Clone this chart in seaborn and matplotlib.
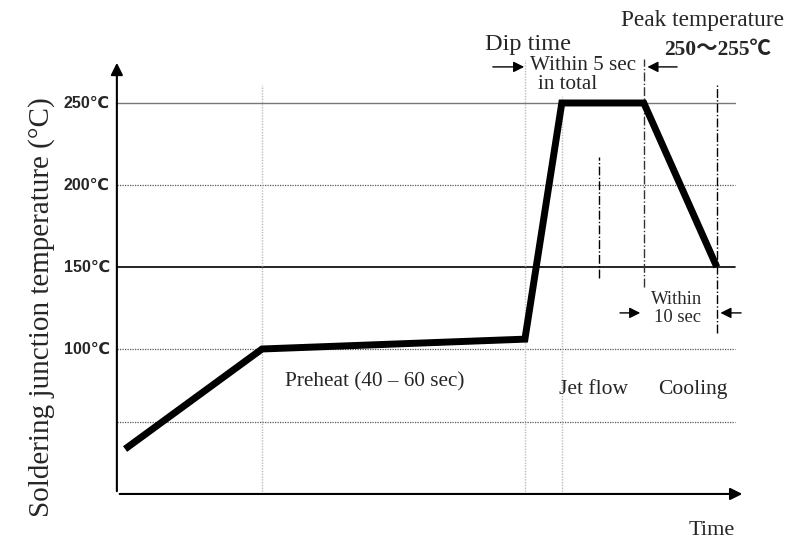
# Flow soldering temperature profile
import seaborn as sns
import matplotlib.pyplot as plt
import pandas as pd

# profile corner points (time in arbitrary units, temperature in °C)
time = [2, 35.4, 99.5, 108.5, 128.5, 146.3]
temp = [39, 100, 106, 250, 250, 150]

tick_temps = [250, 200, 150, 100]
tick_labels = ['250℃', '200℃', '150℃', '100℃']

profile = pd.DataFrame({'time': time, 'temp': temp})

sns.set_style('white')
serif = ['Liberation Serif', 'DejaVu Serif']
sans = ['Liberation Sans', 'DejaVu Sans']

fig = plt.figure(figsize=(7.89, 5.43), dpi=100)
ax = fig.add_axes([0, 0, 1, 1])

x_end = 150.7
y0 = 11.6

# horizontal reference lines
ax.plot([0, x_end], [250, 250], color='#777777', lw=1.0)
ax.plot([0, x_end], [200, 200], color='#555555', lw=0.9, ls=(0, (1, 1)))
ax.plot([0, x_end], [150, 150], color='black', lw=1.2)
ax.plot([0, x_end], [100, 100], color='#555555', lw=0.9, ls=(0, (1, 1)))
ax.plot([0, x_end], [55.5, 55.5], color='#555555', lw=0.9, ls=(0, (1, 1)))

# vertical phase lines
ax.plot([35.4, 35.4], [y0, 261], color='#bbbbbb', lw=1.0, ls=(0, (1, 1)))
ax.plot([99.5, 99.5], [y0, 276], color='#bbbbbb', lw=1.0, ls=(0, (1, 1)))
ax.plot([108.5, 108.5], [y0, 254], color='#bbbbbb', lw=1.0, ls=(0, (1, 1)))
ax.plot([117.6, 117.6], [143, 217], color='black', lw=1.0, ls='-.')
ax.plot([128.5, 128.5], [138, 277], color='#333333', lw=1.0, ls='-.')
ax.plot([146.3, 146.3], [110, 261], color='black', lw=1.0, ls='-.')

# axes with arrow heads
ax.annotate('', xy=(0, 276.2), xytext=(0, y0),
            arrowprops=dict(arrowstyle='-|>', color='black', lw=1.5, mutation_scale=18))
ax.annotate('', xy=(153.2, y0), xytext=(0, y0),
            arrowprops=dict(arrowstyle='-|>', color='black', lw=1.5, mutation_scale=18))

sns.lineplot(data=profile, x='time', y='temp', color='black', lw=5, ax=ax,
             solid_joinstyle='miter', solid_capstyle='butt')
ax.set_xlim(-28.5, 163.9)
ax.set_ylim(-18.3, 312.8)
ax.axis('off')

for t, lab in zip(tick_temps, tick_labels):
    ax.text(-1.7, t, lab, ha='right', va='center', fontsize=11.5,
            fontweight='bold', family=sans)

ax.text(-18.3, 125.6, 'Soldering junction temperature (°C)', rotation=90,
        ha='center', va='center', fontsize=21, family=serif)

ax.text(62.9, 79.9, 'Preheat (40 – 60 sec)', ha='center', va='center',
        fontsize=15.3, family=serif)
ax.text(116.3, 75, 'Jet flow', ha='center', va='center', fontsize=15.5, family=serif)
ax.text(140.5, 75, 'Cooling', ha='center', va='center', fontsize=15.5, family=serif)

ax.text(89.8, 285.4, 'Dip time', ha='left', va='center', fontsize=17.5, family=serif)
ax.text(113.7, 272.6, 'Within 5 sec', ha='center', va='center', fontsize=15.2, family=serif)
ax.text(110, 261, 'in total', ha='center', va='center', fontsize=15.2, family=serif)
ax.text(142.9, 300.6, 'Peak temperature', ha='center', va='center', fontsize=16.8, family=serif)
ax.text(146.6, 282.3, '250～255℃', ha='center', va='center', fontsize=15.5,
        fontweight='bold', family=['Liberation Serif', 'Noto Sans CJK JP', 'DejaVu Sans'])
ax.text(136.6, 129.9, 'Within', ha='center', va='center', fontsize=13.4, family=serif)
ax.text(136.6, 118.9, '10 sec', ha='center', va='center', fontsize=13.4, family=serif)
ax.text(145.1, -10.4, 'Time', ha='center', va='center', fontsize=16, family=serif)

arrow = dict(arrowstyle='-|>', color='black', lw=1.0, mutation_scale=16)
ax.annotate('', xy=(100, 272), xytext=(91, 272), arrowprops=arrow)
ax.annotate('', xy=(128.7, 272), xytext=(137.3, 272), arrowprops=arrow)
ax.annotate('', xy=(128.3, 122), xytext=(122, 122), arrowprops=arrow)
ax.annotate('', xy=(146.5, 122), xytext=(152.9, 122), arrowprops=arrow)

plt.savefig('out.png', dpi=100)
